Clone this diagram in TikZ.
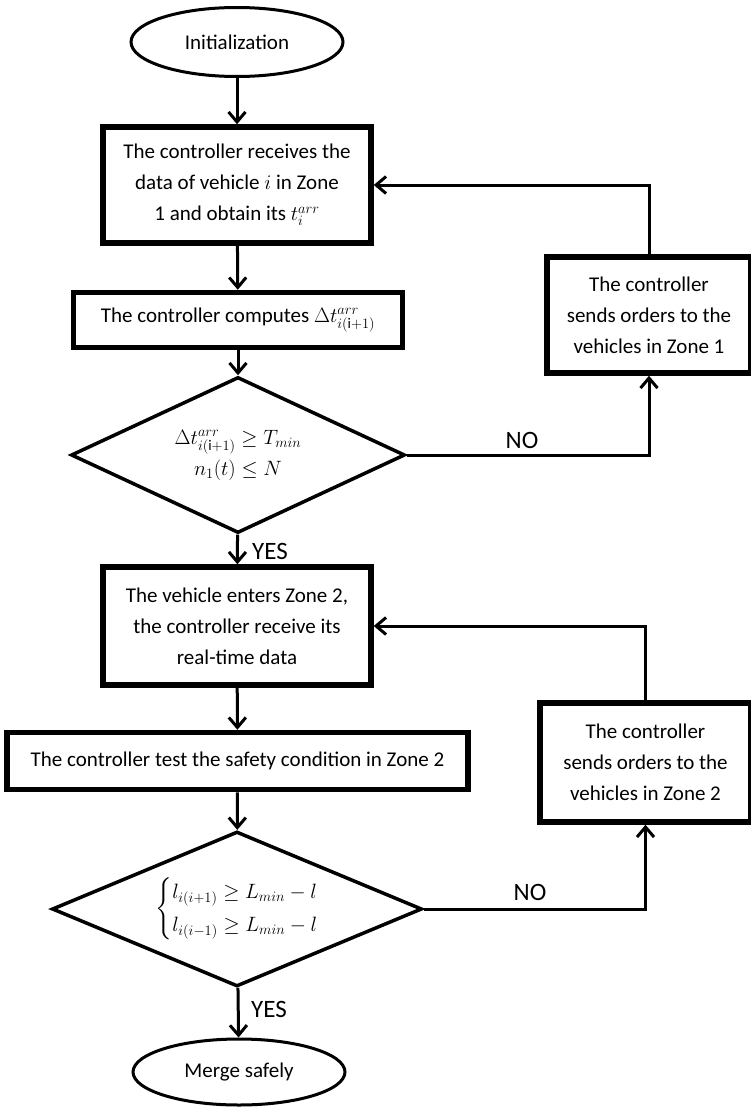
\documentclass[tikz,border=0pt]{standalone}
\usepackage{amsmath}
\usepackage{fontspec}
\setmainfont{Carlito}
\usetikzlibrary{shapes.geometric,arrows.meta}

\begin{document}
\begin{tikzpicture}[x=1pt,y=-1pt,
  txt/.style={font=\fontsize{21}{31}\selectfont, align=center, inner sep=0pt},
  proc/.style={txt, draw, rectangle, line width=5.5pt},
  term/.style={txt, draw, ellipse, line width=3pt},
  test/.style={txt, draw, diamond, line width=3.5pt},
  flow/.style={line width=3pt, -{Straight Barb[length=10pt,width=17pt]}},
  lbl/.style={font=\fontsize{25}{30}\selectfont, inner sep=0pt},
]
\clip (0,0) rectangle (751,1108);
\fill[white] (0,0) rectangle (751,1108);

% main column
\node[term, minimum width=212, minimum height=69] (init) at (237,42) {Initialization};
\node[proc, minimum width=268, minimum height=116] (recv) at (237,185)
  {The controller receives the\\data of vehicle $i$ in Zone\\1 and obtain its $t_i^{arr}$};
\node[proc, minimum width=329, minimum height=55] (comp) at (238,320)
  {The controller computes $\Delta t^{arr}_{i(\mathrm{i}+1)}$};
\node[test, minimum width=334, minimum height=156, aspect=2.14] (chk1) at (238,455)
  {$\Delta t^{arr}_{i(\mathrm{i}+1)} \geq T_{min}$\\$n_1(t) \leq N$};
\node[proc, minimum width=268, minimum height=118] (enter) at (237,626)
  {The vehicle enters Zone 2,\\the controller receive its\\real-time data};
\node[proc, minimum width=461, minimum height=57] (safe) at (237.5,761)
  {The controller test the safety condition in Zone 2};
\node[test, minimum width=370, minimum height=155, aspect=2.39] (chk2) at (237,909)
  {$\left\{\begin{array}{@{}l@{}} l_{i(i+1)} \geq L_{min} - l\\[2pt] l_{i(i-1)} \geq L_{min} - l\end{array}\right.$};
\node[term, minimum width=212, minimum height=66] (merge) at (239,1072) {Merge safely};

% feedback boxes
\node[proc, minimum width=204, minimum height=116] (ord1) at (649,315)
  {The controller\\sends orders to the\\vehicles in Zone 1};
\node[proc, minimum width=211, minimum height=119] (ord2) at (645.5,762.5)
  {The controller\\sends orders to the\\vehicles in Zone 2};

% connectors
\draw[flow] (init) -- (recv);
\draw[flow] (recv) -- (comp);
\draw[flow] (comp) -- (chk1);
\draw[flow] (chk1) -- (enter);
\draw[flow] (enter) -- (safe);
\draw[flow] (safe) -- (chk2);
\draw[flow] (chk2) -- (merge);
\draw[flow] (chk1.east) -| (ord1.south);
\draw[flow] (ord1.north) |- (recv.east);
\draw[flow] (chk2.east) -| (ord2.south);
\draw[flow] (ord2.north) |- (enter.east);

% branch labels
\node[lbl, anchor=west] (yes1) at (252,551) {YES};
\node[lbl] (no1) at (522,440) {NO};
\node[lbl, anchor=west] (yes2) at (251,1009) {YES};
\node[lbl] (no2) at (530,892) {NO};
\end{tikzpicture}
\end{document}
